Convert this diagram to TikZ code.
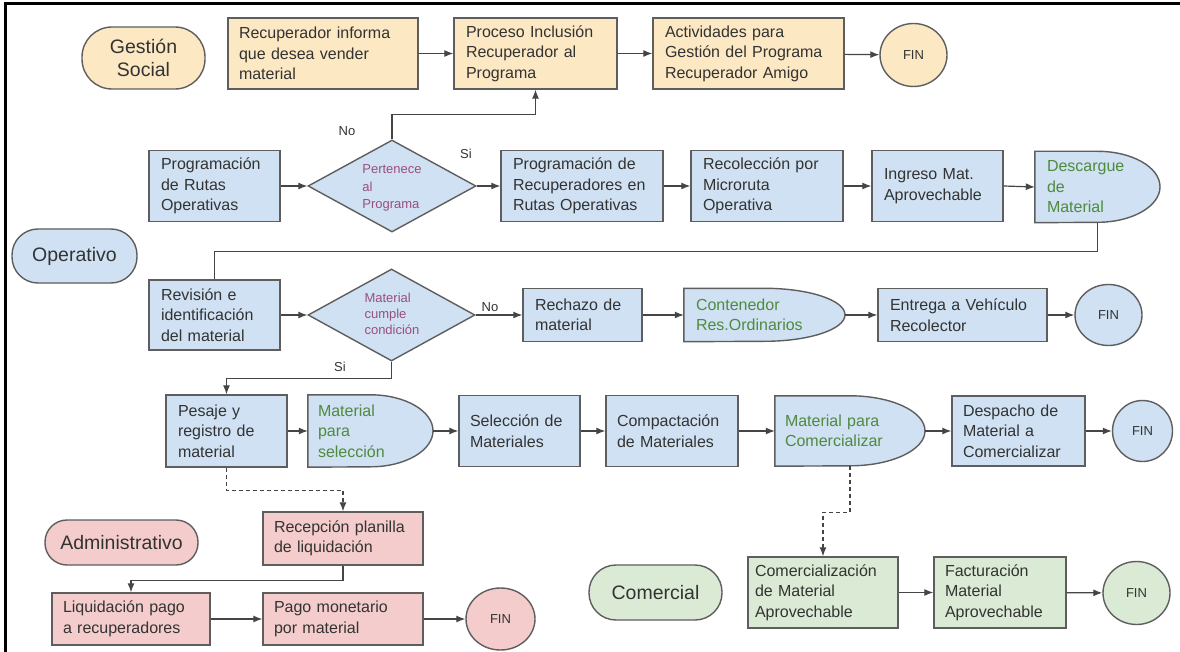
\documentclass[tikz,border=0pt]{standalone}
\usepackage{fontspec}
\setmainfont{Liberation Sans}
\usetikzlibrary{shapes.geometric,arrows.meta,backgrounds}
\definecolor{yel}{HTML}{FCE8C3}
\definecolor{blu}{HTML}{CFE1F2}
\definecolor{pnk}{HTML}{F4CCCC}
\definecolor{grn}{HTML}{DAEAD4}
\definecolor{bordc}{HTML}{5E5E5E}
\definecolor{linec}{HTML}{454545}
\definecolor{txt}{HTML}{333333}
\definecolor{purp}{HTML}{9A4F7D}
\definecolor{gtxt}{HTML}{4F8A3F}
\begin{document}
\begin{tikzpicture}[x=1pt,y=-1pt,
  box/.style={draw=bordc, line width=1.4pt, rectangle, inner xsep=11pt, inner ysep=0pt,
    align=left, text=txt, font=\fontsize{16}{20.5}\selectfont},
  dbox/.style={rectangle, inner xsep=11pt, inner ysep=0pt,
    align=left, text=gtxt, font=\fontsize{16}{20.5}\selectfont},
  dsh/.style={draw=bordc, line width=1.4pt},
  pill/.style={draw=bordc, line width=1.4pt, rectangle, align=center, text=txt,
    font=\fontsize{19.5}{23}\selectfont},
  dia/.style={draw=bordc, line width=1.4pt, diamond, inner sep=0pt, fill=blu},
  dtxt/.style={align=left, text=purp, inner sep=0pt, font=\fontsize{13}{17.5}\selectfont},
  fin/.style={draw=bordc, line width=1.4pt, ellipse, inner sep=0pt, text=txt,
    font=\fontsize{13}{15}\selectfont},
  lab/.style={text=txt, inner sep=0pt, font=\fontsize{13}{15}\selectfont},
  arr/.style={draw=linec, line width=1.2pt, -{Latex[length=9pt,width=7pt]}},
  conn/.style={draw=linec, line width=1.2pt},
  darr/.style={draw=linec, line width=1.2pt, dash pattern=on 4pt off 3pt, -{Latex[length=9pt,width=7pt]}}
]
\useasboundingbox (0,0) rectangle (1180,652);
\draw[line width=3pt, black] (5,652) -- (5,4) -- (1180,4);

% ---- Gestion Social
\node[pill, fill=yel, minimum width=123pt, minimum height=62pt, rounded corners=30pt] (gs) at (143.5,58) {Gestión\\Social};
\node[box, fill=yel, text width=168pt, minimum height=71pt] (rec) at (323,53.5) {Recuperador informa\\que desea vender\\material};
\node[box, fill=yel, text width=139pt, minimum height=71pt, inner xsep=12pt] (proc) at (535.5,53.5) {Proceso Inclusión\\Recuperador al\\Programa};
\node[box, fill=yel, text width=167pt, minimum height=71pt, inner xsep=12pt] (act) at (748.5,53.5) {Actividades para\\Gestión del Programa\\Recuperador Amigo};
\node[fin, fill=yel, minimum width=67pt, minimum height=63pt] (fin1) at (913.5,55) {FIN};

% ---- Operativo row 2
\node[box, fill=blu, text width=107pt, minimum height=71pt, inner xsep=12pt] (prog) at (214.5,186) {Programación\\de Rutas\\Operativas};
\node[dia, minimum width=168pt, minimum height=92pt] (d1) at (392,186) {};
\node[dtxt] (d1t) at (392,188) {Pertenece\\al\\Programa};
\node[box, fill=blu, text width=138pt, minimum height=71pt, inner xsep=12pt] (progrec) at (582,186) {Programación de\\Recuperadores en\\Rutas Operativas};
\node[box, fill=blu, text width=128pt, minimum height=71pt, inner xsep=12pt] (recol) at (767,186) {Recolección por\\Microruta\\Operativa};
\node[box, fill=blu, text width=107pt, minimum height=71pt, inner xsep=12pt] (ing) at (937.5,186) {Ingreso Mat.\\Aprovechable};
\node[dbox, text width=101pt, minimum height=71pt, inner xsep=12pt] (desc) at (1097.5,187) {Descargue\\de\\Material};

\node[pill, fill=blu, minimum width=125pt, minimum height=54pt, rounded corners=26pt] (op) at (74.5,256) {Operativo};

% ---- row 3
\node[box, fill=blu, text width=107pt, minimum height=70pt, inner xsep=12pt] (rev) at (214.5,315) {Revisión e\\identificación\\del material};
\node[dia, minimum width=167pt, minimum height=92pt] (d2) at (391.5,315) {};
\node[dtxt, font=\fontsize{13}{16}\selectfont] (d2t) at (392,314) {Material\\cumple\\condición};
\node[box, fill=blu, text width=95pt, minimum height=53pt, inner xsep=12pt] (rech) at (582.5,315) {Rechazo de\\material};
\node[dbox, text width=137pt, minimum height=53pt, inner xsep=12pt] (cont) at (764.5,315) {Contenedor\\Res.Ordinarios};
\node[box, fill=blu, text width=145pt, minimum height=53pt, inner xsep=12pt] (ent) at (962.5,315) {Entrega a Vehículo\\Recolector};
\node[fin, fill=blu, minimum width=67pt, minimum height=61pt] (fin2) at (1108.5,315) {FIN};

% ---- row 4
\node[box, fill=blu, text width=97pt, minimum height=72pt, inner xsep=12pt] (pes) at (226.5,431) {Pesaje y\\registro de\\material};
\node[dbox, text width=105pt, minimum height=72pt, inner xsep=10pt] (matsel) at (370.5,431) {Material\\para\\selección};
\node[box, fill=blu, text width=99pt, minimum height=71pt] (selec) at (519.5,431) {Selección de\\Materiales};
\node[box, fill=blu, text width=110pt, minimum height=71pt] (compac) at (672,431) {Compactación\\de Materiales};
\node[dbox, text width=130pt, minimum height=70pt, inner xsep=10pt] (matcom) at (850,431) {Material para\\Comercializar};
\node[box, fill=blu, text width=111pt, minimum height=70pt] (desp) at (1018.5,431) {Despacho de\\Material a\\Comercializar};
\node[fin, fill=blu, minimum width=60pt, minimum height=61pt] (fin3) at (1142.5,431) {FIN};

% ---- Administrativo
\node[pill, fill=pnk, minimum width=153pt, minimum height=45pt, rounded corners=22pt] (adm) at (121.5,542.5) {Administrativo};
\node[box, fill=pnk, text width=138pt, minimum height=53pt] (recep) at (343,538.5) {Recepción planilla\\de liquidación};
\node[box, fill=pnk, text width=136pt, minimum height=52pt] (liq) at (131,619) {Liquidación pago\\a recuperadores};
\node[box, fill=pnk, text width=138pt, minimum height=52pt] (pago) at (343,619) {Pago monetario\\por material};
\node[fin, fill=pnk, minimum width=69pt, minimum height=62pt] (fin4) at (500.5,619) {FIN};

% ---- Comercial
\node[pill, fill=grn, minimum width=133pt, minimum height=55pt, rounded corners=27pt] (com) at (655.5,592.5) {Comercial};
\node[box, fill=grn, text width=136pt, minimum height=71pt, inner xsep=7pt] (comer) at (823,592.5) {Comercialización\\de Material\\Aprovechable};
\node[box, fill=grn, text width=110pt, minimum height=71pt] (fact) at (1000,592.5) {Facturación\\Material\\Aprovechable};
\node[fin, fill=grn, minimum width=67pt, minimum height=63pt] (fin5) at (1136.5,593) {FIN};

% ---- background: white page and D shapes
\begin{scope}[on background layer]
\fill[white] (0,0) rectangle (1180,652);
\foreach \n/\rx/\ry in {desc/62.5/35.5, cont/80.5/26.5, matsel/62.5/36, matcom/75/35}
  \draw[dsh, fill=blu] (\n.north west) -- (\n.north) arc[start angle=90, end angle=-90, x radius=\rx pt, y radius=\ry pt] -- (\n.south west) -- cycle;
\end{scope}

% ---- connectors
\draw[arr] (rec) -- (proc);
\draw[arr] (proc) -- (act);
\draw[arr] (act) -- (fin1);
\draw[arr] (prog) -- (d1.west);
\draw[arr] (d1.north) -- ++(0,-25) -| (proc.south);
\node[lab] (lno1) at (347,131) {No};
\draw[arr] (d1.east) -- (progrec.west);
\node[lab] (lsi1) at (466,154) {Si};
\draw[arr] (progrec) -- (recol);
\draw[arr] (recol) -- (ing);
\draw[arr] (ing.east) -- (desc.west);
\draw[conn] (desc.south) -- ++(0,29) -| (rev.north);

\draw[arr] (rev.east) -- (d2.west);
\draw[arr] (d2.east) -- (rech.west);
\node[lab] (lno2) at (490,307) {No};
\draw[arr] (rech) -- (cont.west);
\draw[arr] (cont.east) -- (ent.west);
\draw[arr] (ent) -- (fin2);
\draw[arr] (d2.south) -- ++(0,17) -| (pes.north);
\node[lab] (lsi2) at (340,367) {Si};

\draw[arr] (pes.east) -- (matsel.west);
\draw[arr] (matsel.east) -- (selec.west);
\draw[arr] (selec) -- (compac);
\draw[arr] (compac.east) -- (matcom.west);
\draw[arr] (matcom.east) -- (desp.west);
\draw[arr] (desp) -- (fin3);

\draw[darr] (pes.south) -- ++(0,23) -| (recep.north);
\draw[arr] (recep.south) -- ++(0,15) -| (liq.north);
\draw[arr] (liq) -- (pago);
\draw[arr] (pago) -- (fin4);

\draw[darr] (matcom.south) -- ++(0,46) -| (comer.north);
\draw[arr] (comer) -- (fact);
\draw[arr] (fact) -- (fin5);
\end{tikzpicture}
\end{document}
